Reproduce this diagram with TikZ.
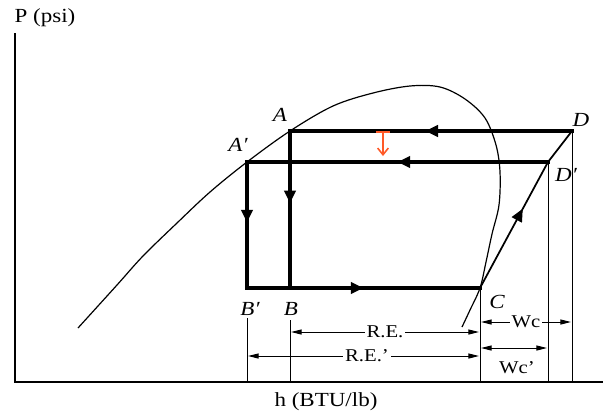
\documentclass[tikz,border=0pt]{standalone}
\usepackage{fontspec}
\setmainfont{Liberation Serif}[FakeStretch=1.15]
\usetikzlibrary{arrows.meta,decorations.markings}
\definecolor{orangemark}{RGB}{255,90,40}
\begin{document}
\begin{tikzpicture}[x=0.75pt,y=-0.75pt,
  axisline/.style={line width=1.5pt},
  cyc/.style={line width=2.3pt,line cap=rect},
  comp/.style={line width=1.3pt},
  ext/.style={line width=0.7pt},
  dome/.style={line width=0.9pt},
  dimline/.style={line width=0.7pt,{Triangle[length=8pt,width=3.8pt]}-{Triangle[length=8pt,width=3.8pt]}},
  flowarrow/.style={postaction={decorate},decoration={markings,mark=at position #1 with {\arrow{Triangle[length=9.5pt,width=8.5pt]}}}},
  axlbl/.style={inner sep=0pt,font=\fontsize{15}{17}\selectfont},
  ptlbl/.style={inner sep=0pt,font=\fontsize{15}{17}\selectfont\itshape},
  dimtxt/.style={inner sep=1.5pt,fill=white,font=\fontsize{13.5}{15}\selectfont}]
\useasboundingbox (0,0) rectangle (603,412);

% axes
\coordinate (O) at (15,382);
\coordinate (Ptop) at (15,33);
\coordinate (Hend) at (603,382);
\draw[axisline] (Ptop) -- (O) -- (Hend);
\node[axlbl] (plbl) at (45,18) {P (psi)};
\node[axlbl] (hlbl) at (326,402) {h (BTU/lb)};

% state points
\coordinate (A) at (290,131);
\coordinate (Ap) at (247,162);
\coordinate (B) at (290,288);
\coordinate (Bp) at (247,288);
\coordinate (C) at (480,288);
\coordinate (D) at (572,131);
\coordinate (Dp) at (548,162);

% saturation dome
\draw[dome] plot[smooth,tension=0.55] coordinates {(78,328) (117,285) (143,256) (177,223) (210,192) (247,162) (290,131) (333,106) (373,93) (410,86) (440,87) (465,99) (485,118) (496,145) (500,172) (499,205) (492,234) (486,262) (480,288) (470,310) (462,327)};

% cycle
\draw[cyc,flowarrow=0.52] (D) -- (A);
\draw[cyc,flowarrow=0.50] (Dp) -- (Ap);
\draw[cyc,flowarrow=0.46] (A) -- (B);
\draw[cyc,flowarrow=0.48] (Ap) -- (Bp);
\draw[cyc,flowarrow=0.50] (Bp) -- (C);
\draw[comp,flowarrow=0.63] (C) -- (Dp);
\draw[comp] (Dp) -- (D);

% orange pressure-drop arrow
\coordinate (o1) at (383,131);
\coordinate (o2) at (383,156);
\draw[orangemark,line width=1.2pt,{Bar[width=10pt]}-{Straight Barb[length=5pt,width=8pt]}] (o1) -- (o2);

% point labels
\node[ptlbl] (lA) at (280,115) {A};
\node[ptlbl] (lAp) at (238,145) {A′};
\node[ptlbl] (lB) at (291,309) {B};
\node[ptlbl] (lBp) at (250,309) {B′};
\node[ptlbl] (lC) at (497,302) {C};
\node[ptlbl] (lD) at (581,120) {D};
\node[ptlbl] (lDp) at (566,175) {D′};

% dimension lines
\coordinate (reL) at (291,332);
\coordinate (reR) at (479,332);
\draw[dimline] (reL) -- (reR);
\node[dimtxt] (re) at (385,332) {R.E.};
\coordinate (re2L) at (248,356);
\coordinate (re2R) at (479,356);
\draw[dimline] (re2L) -- (re2R);
\node[dimtxt] (re2) at (367,356) {R.E.'};
\coordinate (wcL) at (481,322);
\coordinate (wcR) at (571,322);
\draw[dimline] (wcL) -- (wcR);
\node[dimtxt] (wc) at (526,322) {Wc};
\coordinate (wc2L) at (481,348);
\coordinate (wc2R) at (547,348);
\draw[dimline] (wc2L) -- (wc2R);
\node[inner sep=0pt,font=\fontsize{13.5}{15}\selectfont] (wc2) at (517,368) {Wc'};

% extension lines
\coordinate (bpT) at (247,318);
\coordinate (bpB) at (247,382);
\coordinate (bT) at (290,320);
\coordinate (bB) at (290,382);
\coordinate (cB) at (480,382);
\coordinate (dpB) at (548,382);
\coordinate (dB) at (572,382);
\draw[ext] (bpT) -- (bpB);
\draw[ext] (bT) -- (bB);
\draw[ext] (C) -- (cB);
\draw[ext] (Dp) -- (dpB);
\draw[ext] (D) -- (dB);
\end{tikzpicture}
\end{document}
